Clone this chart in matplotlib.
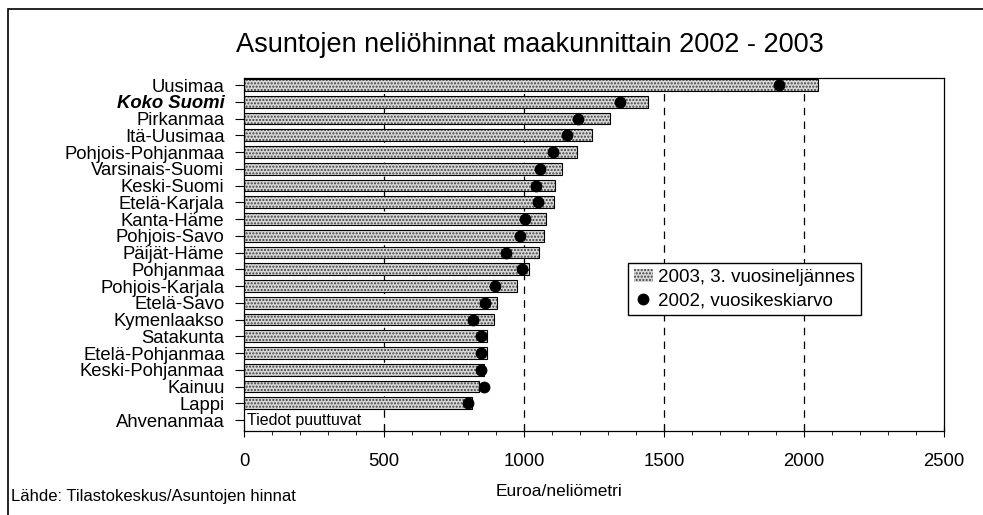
import matplotlib.pyplot as plt
from matplotlib.patches import Rectangle
from matplotlib.ticker import MultipleLocator

plt.rcParams['font.family'] = ['Liberation Sans', 'DejaVu Sans']

regions = ["Uusimaa", "Koko Suomi", "Pirkanmaa", "Itä-Uusimaa", "Pohjois-Pohjanmaa",
           "Varsinais-Suomi", "Keski-Suomi", "Etelä-Karjala", "Kanta-Häme", "Pohjois-Savo",
           "Päijät-Häme", "Pohjanmaa", "Pohjois-Karjala", "Etelä-Savo", "Kymenlaakso",
           "Satakunta", "Etelä-Pohjanmaa", "Keski-Pohjanmaa", "Kainuu", "Lappi", "Ahvenanmaa"]
price_2003 = [2050, 1443, 1307, 1243, 1189, 1136, 1111, 1107, 1079, 1071,
              1054, 1018, 975, 903, 893, 868, 867, 857, 839, 814, None]
price_2002 = [1911, 1343, 1193, 1153, 1104, 1057, 1043, 1050, 1004, 986,
              936, 993, 896, 861, 818, 846, 846, 846, 857, 800, None]

fig = plt.figure(figsize=(9.83, 5.15), dpi=100)
ax = fig.add_axes([0.2482, 0.163, 0.7121, 0.6855])

ypos = list(range(len(regions)))
bar_y = [y for y, v in zip(ypos, price_2003) if v is not None]
bar_v = [v for v in price_2003 if v is not None]
dot_y = [y for y, v in zip(ypos, price_2002) if v is not None]
dot_v = [v for v in price_2002 if v is not None]

for x in [500, 1000, 1500, 2000]:
    ax.axvline(x, color='black', lw=0.9, ls=(0, (6, 5)), zorder=0)

bars = ax.barh(bar_y, bar_v, height=0.7, color='#d6d6d6', hatch='.....',
               edgecolor='#404040', lw=0, zorder=2, label='2003, 3. vuosineljännes')
ax.barh(bar_y, bar_v, height=0.7, color='none', edgecolor='black', lw=0.8, zorder=3)
dots, = ax.plot(dot_v, dot_y, 'o', color='black', ms=7.5, ls='none', zorder=4,
                label='2002, vuosikeskiarvo')

ax.text(10, 20, "Tiedot puuttuvat", fontsize=11.5, va='center', ha='left')

ax.set_xlim(0, 2500)
ax.set_ylim(20.66, -0.42)
ax.set_yticks(ypos)
ax.set_yticklabels(regions, fontsize=13.3)
lab = ax.get_yticklabels()[1]
lab.set_fontweight('bold')
lab.set_fontstyle('italic')
ax.xaxis.set_major_locator(MultipleLocator(500))
ax.xaxis.set_minor_locator(MultipleLocator(100))
ax.tick_params(axis='x', which='major', direction='inout', length=8, labelsize=13.3, pad=12)
ax.tick_params(axis='x', which='minor', direction='out', length=3)
ax.tick_params(axis='y', direction='out', length=6.5, pad=7.5)
for s in ax.spines.values():
    s.set_linewidth(0.9)

ax.legend([bars, dots], ['2003, 3. vuosineljännes', '2002, vuosikeskiarvo'],
          loc='upper left', bbox_to_anchor=(0.549, 0.476), borderaxespad=0,
          fontsize=13.5, frameon=True, fancybox=False, edgecolor='black', framealpha=1,
          handlelength=1.0, handletextpad=0.3, borderpad=0.3, labelspacing=0.35)

fig.text(0.539, 0.913, "Asuntojen neliöhinnat maakunnittain 2002 - 2003",
         ha='center', va='center', fontsize=19.5)
fig.text(0.569, 0.046, "Euroa/neliömetri", ha='center', va='center', fontsize=12.5)
fig.text(0.011, 0.035, "Lähde: Tilastokeskus/Asuntojen hinnat", ha='left', va='center',
         fontsize=12)

fig.patches.append(Rectangle((8 / 983, -0.1), 1.2, 1.1 - 9 / 515, transform=fig.transFigure,
                             fill=False, edgecolor='black', lw=1.2))

fig.savefig("out.png", dpi=100)
